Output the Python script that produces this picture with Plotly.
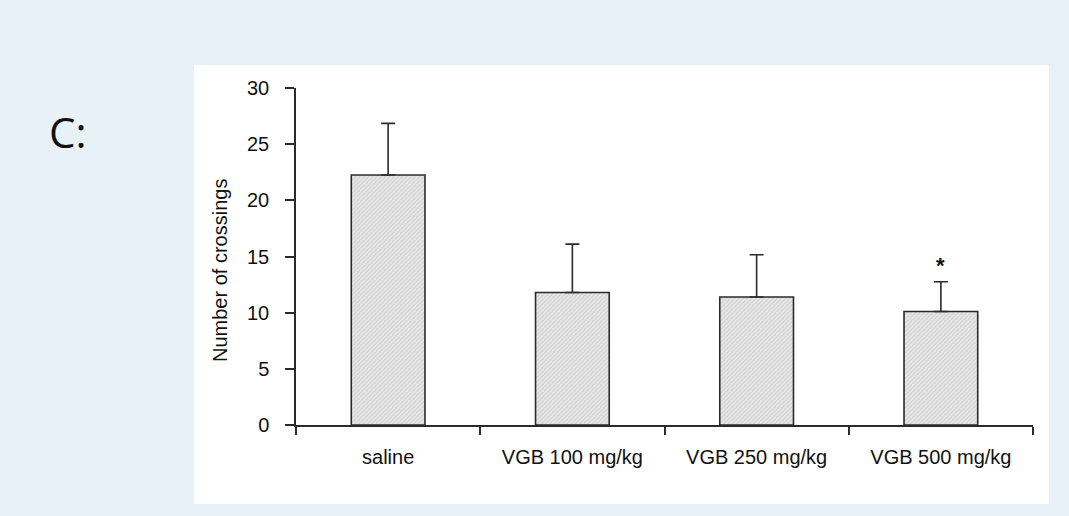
import plotly.graph_objects as go

categories = ["saline", "VGB 100 mg/kg", "VGB 250 mg/kg", "VGB 500 mg/kg"]
means = [22.25, 11.8, 11.4, 10.1]
sem = [4.6, 4.3, 3.75, 2.65]
significance = ["", "", "", "*"]
y_ticks = [0, 5, 10, 15, 20, 25, 30]

W, H = 1069, 516
L, R, T, B = 296, 36, 88, 91
pw, ph = W - L - R, H - T - B

def px_to_paper_x(px):
    return (px - L) / pw

def px_to_paper_y(py):
    return (H - B - py) / ph

fig = go.Figure()
fig.add_trace(go.Bar(
    x=categories, y=means, width=0.4,
    marker=dict(
        color="#e2e2e2",
        line=dict(color="#2b2b2b", width=1.6),
        pattern=dict(shape="/", fgcolor="#b8b8b8", bgcolor="#e6e6e6", size=3, solidity=0.35),
    ),
    error_y=dict(type="data", array=sem, arrayminus=[0] * len(sem), symmetric=False,
                 color="#2b2b2b", thickness=1.6, width=7),
    showlegend=False,
))

for c, m, s, sig in zip(categories, means, sem, significance):
    if sig:
        fig.add_annotation(x=c, y=m + s, text="<b>" + sig + "</b>", showarrow=False, yanchor="bottom",
                           yshift=2, font=dict(family="Liberation Sans, Arial", size=22, color="#111111"))

# white panel
fig.add_shape(type="rect", xref="paper", yref="paper", layer="below",
              x0=px_to_paper_x(194), x1=px_to_paper_x(1049),
              y0=px_to_paper_y(504), y1=px_to_paper_y(65),
              fillcolor="white", line=dict(width=0))

# panel label
fig.add_annotation(xref="paper", yref="paper", x=px_to_paper_x(47), y=px_to_paper_y(131),
                   xanchor="left", yanchor="middle", text="C:", showarrow=False,
                   font=dict(family="Open Sans, Noto Sans", size=42, color="#111111"))

# y title
fig.add_annotation(xref="paper", yref="paper", x=px_to_paper_x(220), y=px_to_paper_y(271),
                   xanchor="center", yanchor="middle", text="Number of crossings", textangle=-90,
                   showarrow=False, font=dict(family="Liberation Sans, Arial", size=20, color="#111111"))

fig.update_layout(
    width=W, height=H,
    margin=dict(l=L, r=R, t=T, b=B),
    paper_bgcolor="#e8f0f8",
    plot_bgcolor="rgba(0,0,0,0)",
    font=dict(family="Liberation Sans, Arial", size=19, color="#111111"),
)
fig.update_xaxes(
    type="category", range=[-0.5, 3.5], showline=True, linecolor="#2b2b2b", linewidth=1.5,
    ticks="outside", tickson="boundaries", ticklen=8, tickcolor="#2b2b2b", tickwidth=1.5,
    showgrid=False, zeroline=False, ticklabelstandoff=13, tickfont=dict(size=20),
)
fig.update_yaxes(
    range=[0, 30], tickvals=y_ticks, showline=True, linecolor="#2b2b2b", linewidth=1.5,
    ticks="outside", ticklen=9, tickcolor="#2b2b2b", tickwidth=1.5,
    showgrid=False, zeroline=False, ticklabelstandoff=12, tickfont=dict(size=20),
)

fig.write_html("out.html", config={"displayModeBar": False},
               post_script="document.body.style.margin='0';document.body.style.padding='0';")
